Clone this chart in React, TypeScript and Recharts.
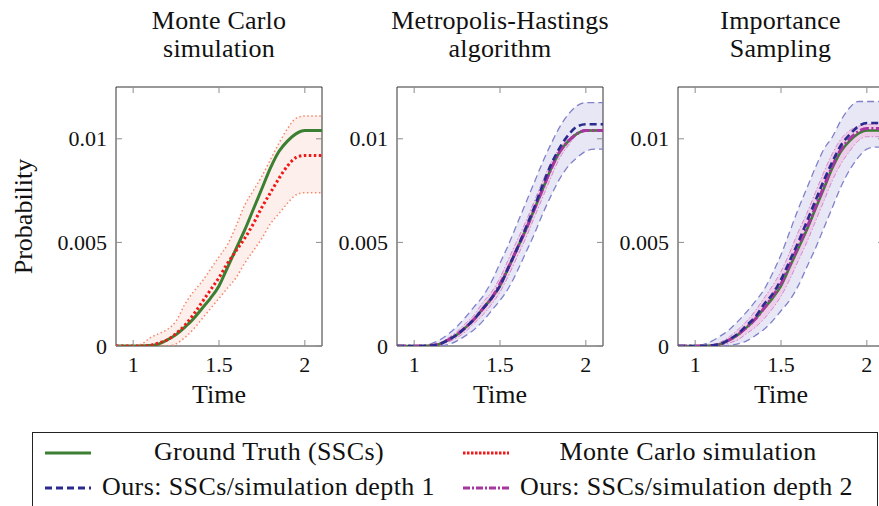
import React from "react";
import { ComposedChart, Line, Area, XAxis, YAxis, ReferenceArea, Label } from "recharts";

// time grid shared by every curve
const time = [0.9, 0.95, 1.0, 1.05, 1.1, 1.15, 1.2, 1.25, 1.3, 1.35, 1.4, 1.45, 1.5, 1.55, 1.6, 1.65, 1.7, 1.75, 1.8, 1.85, 1.9, 1.95, 2.0, 2.05, 2.1];

const groundTruth = [0, 0, 0, 0, 0.00002, 0.0001, 0.0003, 0.00055, 0.0009, 0.0013, 0.0018, 0.0023, 0.0029, 0.0038, 0.0047, 0.0056, 0.0066, 0.0076, 0.0086, 0.0094, 0.0099, 0.01025, 0.0104, 0.0104, 0.0104];

// Monte Carlo simulation
const mcMean = [0, 0, 0, 0, 0.00003, 0.00015, 0.0003, 0.0006, 0.001, 0.0015, 0.0021, 0.0027, 0.0033, 0.004, 0.0046, 0.0052, 0.0059, 0.0067, 0.0074, 0.0081, 0.0087, 0.0091, 0.0092, 0.0092, 0.0092];
const mcHigh = [0, 0, 0, 0.0001, 0.0004, 0.0006, 0.0008, 0.0012, 0.002, 0.0026, 0.0031, 0.0037, 0.0043, 0.0049, 0.0058, 0.0068, 0.0075, 0.0082, 0.009, 0.0098, 0.0105, 0.011, 0.0111, 0.0111, 0.0111];
const mcLow = [0, 0, 0, 0, 0, 0, 0, 0.0001, 0.0004, 0.0008, 0.0013, 0.0018, 0.0023, 0.0028, 0.0033, 0.004, 0.0046, 0.0052, 0.0059, 0.0064, 0.0069, 0.0073, 0.0074, 0.0074, 0.0074];

// Metropolis-Hastings
const mhOurs1 = [0, 0, 0, 0, 0.00002, 0.0001, 0.0003, 0.00055, 0.0009, 0.0013, 0.0018, 0.0023, 0.0029, 0.0038, 0.0047, 0.0057, 0.0067, 0.0078, 0.0088, 0.0096, 0.0102, 0.0106, 0.0107, 0.0107, 0.0107];
const mhHigh1 = [0, 0, 0, 0.00003, 0.00012, 0.0003, 0.00058, 0.00095, 0.0014, 0.0019, 0.0024, 0.0031, 0.004, 0.0049, 0.0059, 0.0069, 0.0079, 0.0089, 0.0098, 0.0106, 0.0112, 0.0116, 0.01175, 0.01175, 0.01175];
const mhLow1 = [0, 0, 0, 0, 0, 0.00001, 0.00008, 0.00025, 0.0005, 0.0008, 0.0012, 0.0017, 0.0022, 0.0028, 0.0036, 0.0045, 0.0054, 0.0064, 0.0073, 0.0081, 0.0087, 0.0091, 0.0094, 0.0095, 0.0095];
const mhOurs2 = [0, 0, 0, 0, 0.00002, 0.0001, 0.0003, 0.00056, 0.0009, 0.0013, 0.0018, 0.0023, 0.003, 0.0038, 0.0047, 0.0056, 0.0066, 0.0076, 0.0086, 0.0094, 0.0099, 0.01025, 0.0104, 0.0104, 0.0104];
const mhHigh2 = [0, 0, 0, 0, 0.00004, 0.00015, 0.0004, 0.0007, 0.0011, 0.0015, 0.0021, 0.0026, 0.0033, 0.0042, 0.0051, 0.006, 0.007, 0.008, 0.0089, 0.0096, 0.01, 0.0103, 0.01045, 0.01045, 0.01045];
const mhLow2 = [0, 0, 0, 0, 0, 0.00005, 0.0002, 0.0004, 0.0007, 0.0011, 0.0015, 0.002, 0.0026, 0.0034, 0.0043, 0.0052, 0.0062, 0.0072, 0.0082, 0.0091, 0.0097, 0.0102, 0.01035, 0.01035, 0.01035];

// Importance Sampling
const isOurs1 = [0, 0, 0, 0, 0.00003, 0.00011, 0.00032, 0.0006, 0.001, 0.0014, 0.002, 0.0025, 0.0032, 0.0041, 0.005, 0.006, 0.007, 0.008, 0.0089, 0.0097, 0.0102, 0.0106, 0.01076, 0.01076, 0.01076];
const isHigh1 = [0, 0, 0.00001, 0.00008, 0.00025, 0.0005, 0.0008, 0.0012, 0.00165, 0.00215, 0.0027, 0.0035, 0.0044, 0.0055, 0.0066, 0.0076, 0.0086, 0.0095, 0.0101, 0.0109, 0.0115, 0.0118, 0.0118, 0.0118, 0.0118];
const isLow1 = [0, 0, 0, 0, 0, 0, 0.00003, 0.0001, 0.00025, 0.0005, 0.0008, 0.0012, 0.0017, 0.0022, 0.0029, 0.0038, 0.0047, 0.0057, 0.0067, 0.0077, 0.0085, 0.0091, 0.0095, 0.0096, 0.0096];
const isOurs2 = [0, 0, 0, 0, 0.00002, 0.0001, 0.0003, 0.00056, 0.0009, 0.0013, 0.0018, 0.0024, 0.003, 0.0039, 0.0048, 0.0057, 0.0067, 0.0077, 0.0087, 0.0095, 0.01, 0.01035, 0.0105, 0.0105, 0.0105];
const isHigh2 = [0, 0, 0, 0, 0.00005, 0.0002, 0.00045, 0.0008, 0.0012, 0.0017, 0.0023, 0.0029, 0.0036, 0.0045, 0.0055, 0.0064, 0.0074, 0.0084, 0.0093, 0.01, 0.0104, 0.0106, 0.0107, 0.0107, 0.0107];
const isLow2 = [0, 0, 0, 0, 0, 0.00003, 0.00015, 0.0003, 0.0006, 0.0009, 0.0013, 0.0018, 0.0024, 0.0032, 0.0041, 0.005, 0.006, 0.007, 0.008, 0.0088, 0.0094, 0.0099, 0.0101, 0.0101, 0.0101];

const xTicks = [1, 1.5, 2];
const yTicks = [0, 0.005, 0.01];

const FONT = "Liberation Serif, DejaVu Serif, serif";
const TEXT = "#111";
const LABEL_SIZE = 26;
const PLOT_TOP = 87;
const PLOT_BOTTOM = 346;
const AXIS_W = 116;
const PLOT_W = 206;
const CHART_H = 420;
const TICK = "#8c8c8c";

const C = {
  gt: "#3b7f32",
  mc: "#f01818",
  mcBand: "#fdefeb",
  mcEdge: "#f7876a",
  ours1: "#2b2b8f",
  band1: "#e7e7f5",
  edge1: "#8080cb",
  ours2: "#a8369f",
  band2: "#edcde9",
  edge2: "#d08dcb",
};

const mcData = time.map((t, i) => ({ t, gt: groundTruth[i], mean: mcMean[i], high: mcHigh[i], low: mcLow[i], band: [mcLow[i], mcHigh[i]] }));

const mhData = time.map((t, i) => ({
  t, gt: groundTruth[i],
  ours1: mhOurs1[i], high1: mhHigh1[i], low1: mhLow1[i], band1: [mhLow1[i], mhHigh1[i]],
  ours2: mhOurs2[i], high2: mhHigh2[i], low2: mhLow2[i], band2: [mhLow2[i], mhHigh2[i]],
}));

const isData = time.map((t, i) => ({
  t, gt: groundTruth[i],
  ours1: isOurs1[i], high1: isHigh1[i], low1: isLow1[i], band1: [isLow1[i], isHigh1[i]],
  ours2: isOurs2[i], high2: isHigh2[i], low2: isLow2[i], band2: [isLow2[i], isHigh2[i]],
}));

function XTick(props: any) {
  const { x, payload } = props;
  return (
    <g>
      <line x1={x} x2={x} y1={PLOT_BOTTOM} y2={PLOT_BOTTOM - 6} stroke={TICK} />
      <line x1={x} x2={x} y1={PLOT_TOP} y2={PLOT_TOP + 6} stroke={TICK} />
      <text x={x} y={364} textAnchor="middle" dominantBaseline="central" fontSize={22} fontFamily={FONT} fill={TEXT}>
        {payload.value}
      </text>
    </g>
  );
}

function YTick(props: any) {
  const { y, payload } = props;
  return (
    <g>
      <line x1={AXIS_W} x2={AXIS_W + 6} y1={y} y2={y} stroke={TICK} />
      <line x1={AXIS_W + PLOT_W} x2={AXIS_W + PLOT_W - 6} y1={y} y2={y} stroke={TICK} />
      <text x={AXIS_W - 9} y={y} textAnchor="end" dominantBaseline="central" fontSize={22} fontFamily={FONT} fill={TEXT}>
        {payload.value}
      </text>
    </g>
  );
}

function ProbLabel(props: any) {
  const { viewBox } = props;
  const cy = viewBox.y + viewBox.height / 2;
  const cx = 23;
  return (
    <text x={cx} y={cy} transform={`rotate(-90 ${cx} ${cy})`} textAnchor="middle" dominantBaseline="central" fontSize={LABEL_SIZE} fontFamily={FONT} fill={TEXT}>
      Probability
    </text>
  );
}

function Panel({ left, title, data, yLabel, children }: { left: number; title: string[]; data: any[]; yLabel?: boolean; children: React.ReactNode }) {
  return (
    <div style={{ position: "absolute", left: left - AXIS_W, top: 0 }}>
      <ComposedChart
        width={AXIS_W + PLOT_W + 10}
        height={CHART_H}
        data={data}
        margin={{ top: PLOT_TOP, right: 10, bottom: CHART_H - PLOT_BOTTOM - 60, left: 0 }}
      >
        <XAxis dataKey="t" type="number" domain={[0.9, 2.1]} ticks={xTicks} tick={<XTick />} tickLine={false} axisLine={false} height={60} allowDataOverflow>
          <Label value="Time" position="insideBottom" offset={3} fontSize={LABEL_SIZE} fontFamily={FONT} fill={TEXT} />
        </XAxis>
        <YAxis type="number" domain={[0, 0.0125]} ticks={yTicks} tick={<YTick />} tickLine={false} axisLine={false} width={AXIS_W} allowDataOverflow>
          {yLabel && <Label content={ProbLabel} />}
        </YAxis>
        {children}
        <ReferenceArea x1={0.9} x2={2.1} y1={0} y2={0.0125} fill="none" stroke="#333" strokeWidth={1} />
      </ComposedChart>
      <div
        style={{
          position: "absolute", left: AXIS_W - 40, top: 7, width: PLOT_W + 80, textAlign: "center", whiteSpace: "nowrap",
          fontFamily: FONT, fontSize: LABEL_SIZE, lineHeight: "28px", color: TEXT, letterSpacing: 0.2, pointerEvents: "none",
        }}
      >
        {title.map((s) => <div key={s}>{s}</div>)}
      </div>
    </div>
  );
}

function oursSeries() {
  return [
    <Area key="b1" type="monotone" dataKey="band1" stroke="none" fill={C.band1} fillOpacity={1} isAnimationActive={false} />,
    <Area key="b2" type="monotone" dataKey="band2" stroke="none" fill={C.band2} fillOpacity={1} isAnimationActive={false} />,
    <Line key="h1" type="monotone" dataKey="high1" stroke={C.edge1} strokeWidth={1.3} strokeDasharray="7 4" dot={false} isAnimationActive={false} />,
    <Line key="l1" type="monotone" dataKey="low1" stroke={C.edge1} strokeWidth={1.3} strokeDasharray="7 4" dot={false} isAnimationActive={false} />,
    <Line key="h2" type="monotone" dataKey="high2" stroke={C.edge2} strokeWidth={1} strokeDasharray="5 2 1.5 2" dot={false} isAnimationActive={false} />,
    <Line key="l2" type="monotone" dataKey="low2" stroke={C.edge2} strokeWidth={1} strokeDasharray="5 2 1.5 2" dot={false} isAnimationActive={false} />,
    <Line key="gt" type="monotone" dataKey="gt" stroke={C.gt} strokeWidth={2.6} dot={false} isAnimationActive={false} />,
    <Line key="o2" type="monotone" dataKey="ours2" stroke={C.ours2} strokeWidth={3} strokeDasharray="9 2.5 2 2.5" dot={false} isAnimationActive={false} />,
    <Line key="o1" type="monotone" dataKey="ours1" stroke={C.ours1} strokeWidth={2.6} strokeDasharray="7 4" dot={false} isAnimationActive={false} />,
  ];
}

function LegendSample({ color, dash, width }: { color: string; dash?: string; width: number }) {
  return (
    <svg width={48} height={8} style={{ display: "block" }}>
      <line x1={1} x2={47} y1={4} y2={4} stroke={color} strokeWidth={width} strokeDasharray={dash} />
    </svg>
  );
}

export default function App() {
  const legendText: React.CSSProperties = {
    position: "absolute", fontFamily: FONT, fontSize: LABEL_SIZE, lineHeight: "30px", color: TEXT, whiteSpace: "nowrap", letterSpacing: 0.4,
  };
  return (
    <div style={{ position: "absolute", left: 0, top: 0, width: 879, height: 506, overflow: "hidden", background: "#fff" }}>
      <Panel left={116} title={["Monte Carlo", "simulation"]} data={mcData} yLabel>
        <Area type="monotone" dataKey="band" stroke="none" fill={C.mcBand} fillOpacity={1} isAnimationActive={false} />
        <Line type="monotone" dataKey="high" stroke={C.mcEdge} strokeWidth={1.5} strokeDasharray="1.5 2.5" dot={false} isAnimationActive={false} />
        <Line type="monotone" dataKey="low" stroke={C.mcEdge} strokeWidth={1.5} strokeDasharray="1.5 2.5" dot={false} isAnimationActive={false} />
        <Line type="monotone" dataKey="gt" stroke={C.gt} strokeWidth={3} dot={false} isAnimationActive={false} />
        <Line type="monotone" dataKey="mean" stroke={C.mc} strokeWidth={3} strokeDasharray="2.5 2.5" dot={false} isAnimationActive={false} />
      </Panel>
      <Panel left={397} title={["Metropolis-Hastings", "algorithm"]} data={mhData}>
        {oursSeries()}
      </Panel>
      <Panel left={677.5} title={["Importance", "Sampling"]} data={isData}>
        {oursSeries()}
      </Panel>

      <div style={{ position: "absolute", left: 32, top: 432, width: 846, height: 100, border: "1px solid #222", boxSizing: "border-box", background: "#fff" }}>
        <div style={{ position: "absolute", left: 11, top: 16 }}><LegendSample color={C.gt} width={3} /></div>
        <div style={{ ...legendText, left: 236, top: 4, transform: "translateX(-50%)" }}>Ground Truth (SSCs)</div>
        <div style={{ position: "absolute", left: 429, top: 16 }}><LegendSample color={C.mc} width={3} dash="2.5 1.5" /></div>
        <div style={{ ...legendText, left: 655, top: 4, transform: "translateX(-50%)" }}>Monte Carlo simulation</div>
        <div style={{ position: "absolute", left: 11, top: 51 }}><LegendSample color={C.ours1} width={3} dash="7 4" /></div>
        <div style={{ ...legendText, left: 69, top: 39 }}>Ours: SSCs/simulation depth 1</div>
        <div style={{ position: "absolute", left: 429, top: 51 }}><LegendSample color={C.ours2} width={2.8} dash="7 2 2 2" /></div>
        <div style={{ ...legendText, left: 487, top: 39 }}>Ours: SSCs/simulation depth 2</div>
      </div>
    </div>
  );
}
